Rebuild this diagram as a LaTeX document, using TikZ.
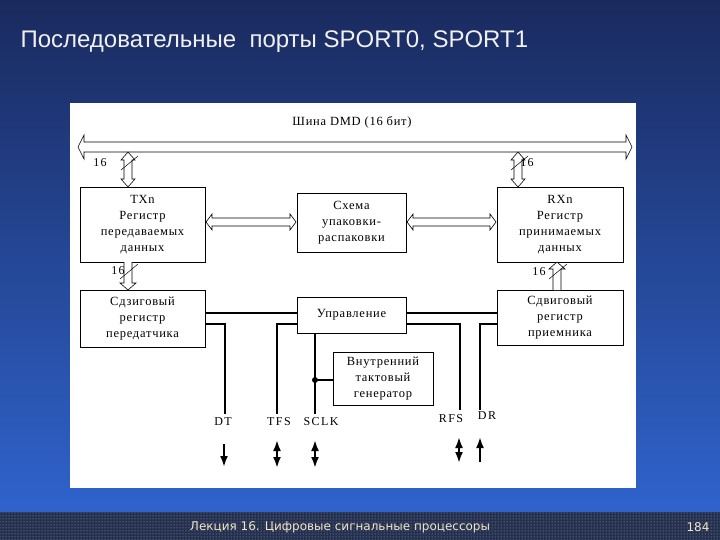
\documentclass[tikz,border=0pt]{standalone}
\usepackage{fontspec}
\setmainfont{Liberation Serif}
\newfontfamily\titlefont{Liberation Sans}
\newfontfamily\footfont{DejaVu Sans}
\usetikzlibrary{arrows.meta,patterns}
\definecolor{bgtop}{HTML}{1A2A5E}
\definecolor{bgbot}{HTML}{2F63CC}
\definecolor{footbg}{HTML}{23304F}
\definecolor{foottx}{HTML}{F2E4C8}
% hollow arrows: #1 start x, #2 y, #3 length, #4 half shaft, #5 half head, #6 head length
\newcommand\hdbl[6]{\draw[line width=0.6pt,fill=white,shift={(#1,#2)}] (0,0) -- (#6,-#5) -- (#6,-#4) -- (#3-#6,-#4) -- (#3-#6,-#5) -- (#3,0) -- (#3-#6,#5) -- (#3-#6,#4) -- (#6,#4) -- (#6,#5) -- cycle;}
\newcommand\vdbl[6]{\draw[line width=0.6pt,fill=white,shift={(#1,#2)}] (0,0) -- (-#5,#6) -- (-#4,#6) -- (-#4,#3-#6) -- (-#5,#3-#6) -- (0,#3) -- (#5,#3-#6) -- (#4,#3-#6) -- (#4,#6) -- (#5,#6) -- cycle;}
\newcommand\vdown[6]{\draw[line width=0.6pt,fill=white,shift={(#1,#2)}] (-#4,0) -- (-#4,#3-#6) -- (-#5,#3-#6) -- (0,#3) -- (#5,#3-#6) -- (#4,#3-#6) -- (#4,0);}
\newcommand\vup[6]{\draw[line width=0.6pt,fill=white,shift={(#1,#2)}] (-#4,#3) -- (-#4,#6) -- (-#5,#6) -- (0,0) -- (#5,#6) -- (#4,#6) -- (#4,#3);}
\begin{document}
\begin{tikzpicture}[x=1pt,y=-1pt,
  box/.style={draw,line width=0.6pt,align=center,inner sep=0pt,font=\fontsize{12.5}{16}\selectfont\addfontfeature{LetterSpace=6}},
  thick/.style={line width=2.6pt},
  sig/.style={line width=2.4pt,-{Latex[length=11pt,width=8pt]}},
  sig2/.style={line width=2.4pt,{Latex[length=11pt,width=8pt]}-{Latex[length=11pt,width=8pt]}},
  lbl/.style={font=\fontsize{12}{12}\selectfont\addfontfeature{LetterSpace=12},inner sep=0pt},
  sl/.style={line width=0.5pt}]
\useasboundingbox (0,0) rectangle (720,540);
\shade[top color=bgtop, bottom color=bgbot] (0,0) rectangle (720,512);
\fill[footbg] (0,512) rectangle (720,540);
\fill[pattern=dots,pattern color=gray!70] (0,512) rectangle (720,540);
\node[anchor=west,font=\titlefont\fontsize{24}{26}\selectfont,text=white!88!gray] (title) at (17,42) {Последовательные\ \ порты SPORT0, SPORT1};
\node[font=\footfont\fontsize{12}{12}\selectfont,text=foottx] (foot) at (340,527) {Лекция 16. Цифровые сигнальные процессоры};
\node[font=\footfont\fontsize{12}{12}\selectfont,text=foottx] (pg) at (698,527) {184};
\fill[white] (70,103) rectangle (636,488);
\node[lbl,font=\fontsize{12.5}{13}\selectfont\addfontfeature{LetterSpace=6}] (bust) at (352,122) {Шина DMD (16 бит)};
\node[box,minimum width=125pt,minimum height=75pt] (tx) at (142.5,224.5) {TXn\\Регистр\\передаваемых\\данных};
\node[box,minimum width=109pt,minimum height=59pt] (pk) at (351.5,222.5) {Схема\\упаковки-\\распаковки};
\node[box,minimum width=126pt,minimum height=75pt] (rx) at (560,224.5) {RXn\\Регистр\\принимаемых\\данных};
\node[box,minimum width=125pt,minimum height=57pt] (stx) at (142.5,318.5) {Сдзиговый\\регистр\\передатчика};
\node[box,minimum width=109pt,minimum height=36pt] (ctl) at (351.5,315) {Управление};
\node[box,minimum width=126pt,minimum height=55pt] (srx) at (560,317.5) {Сдвиговый\\регистр\\приемника};
\node[box,minimum width=100pt,minimum height=53pt] (gen) at (383,378.5) {Внутренний\\тактовый\\генератор};
% hollow arrows
\hdbl{78}{147}{554}{5}{12}{6}
\vdbl{128}{152}{35}{4}{7}{8}
\vdbl{518}{152}{35}{4}{7}{8}
\hdbl{206}{222}{90}{4}{8}{6}
\hdbl{407}{222}{89}{4}{8}{6}
\vdown{128}{262}{28}{4}{8}{7}
\vup{557}{262}{28}{4}{8}{7}
% 16 labels
\node[lbl] (n1) at (100,163) {16};
\draw[sl] (121,170) -- (138,156);
\node[lbl] (n2) at (527,163) {16};
\draw[sl] (511,170) -- (528,156);
\node[lbl] (n3) at (118,271) {16};
\draw[sl] (120,279) -- (138,264);
\node[lbl] (n4) at (539,272) {16};
\draw[sl] (549,279) -- (567,264);
% thick control lines
\draw[thick] (stx.east |- 0,313) -- (ctl.west |- 0,313);
\draw[thick] (ctl.east |- 0,313) -- (srx.west |- 0,313);
\draw[thick] (stx.east |- 0,324) -| (225,414);
\draw[thick] (ctl.west |- 0,324) -| (277,414);
\draw[thick] (ctl.south -| 315,0) -- (315,414);
\draw[thick] (ctl.east |- 0,324) -| (460,410);
\draw[thick] (srx.west |- 0,324) -| (480,410);
\fill (315,380) circle (3pt);
\draw[line width=1.2pt] (315,380) -- (gen.west |- 0,380);
% signal labels
\node[lbl] (dt) at (223,422) {DT};
\node[lbl] (tfs) at (279,422) {TFS};
\node[lbl] (sclk) at (321,422) {SCLK};
\node[lbl] (rfs) at (451,419) {RFS};
\node[lbl] (dr) at (487,416) {DR};
\draw[sig] (224,444) -- (224,467);
\draw[sig2] (277,440) -- (277,468);
\draw[sig2] (315,440) -- (315,468);
\draw[sig2] (459,437) -- (459,463);
\draw[sig] (480,462) -- (480,437);
\end{tikzpicture}
\end{document}
